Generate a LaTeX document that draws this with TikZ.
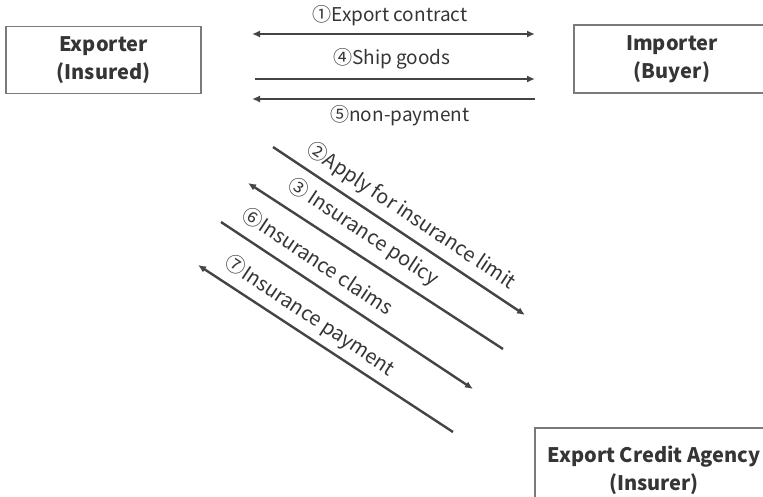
\documentclass[tikz,border=0pt]{standalone}
\usepackage{fontspec}
\setmainfont{Noto Sans CJK KR}
\usetikzlibrary{arrows.meta}
\definecolor{ink}{HTML}{353535}
\definecolor{edge}{HTML}{7A7A7A}
\definecolor{flow}{HTML}{444444}
\begin{document}
\begin{tikzpicture}[x=1pt,y=-1pt,
  party/.style={draw=edge,line width=1.3pt,fill=white,text=ink,
    font=\fontsize{20}{28}\selectfont\bfseries,align=center,
    inner sep=0pt,minimum width=#1},
  flowline/.style={draw=flow,line width=2.4pt},
  tip/.style={-{Latex[length=8pt,width=7pt]}},
  lbl/.style={text=ink,font=\fontsize{19}{20}\selectfont,inner sep=0pt},
  dlbl/.style={text=ink,font=\fontsize{20}{20}\selectfont,inner sep=0pt,rotate=-33.7}]
\useasboundingbox (0,0) rectangle (763,497);
\clip (0,0) rectangle (763,497);

% parties
\node[party=195pt,minimum height=67pt] (exp) at (103.5,60) {Exporter\\(Insured)};
\node[party=196pt,minimum height=68pt] (imp) at (672,59) {Importer\\(Buyer)};
\node[party=238pt,minimum height=84pt] (eca) at (654,470) {Export Credit Agency\\(Insurer)};

% horizontal flows between exporter and importer
\coordinate (h1a) at (252,34);  \coordinate (h1b) at (535,34);
\coordinate (h4a) at (255,79);  \coordinate (h4b) at (535,79);
\coordinate (h5a) at (535,99);  \coordinate (h5b) at (252,99);
\draw[flowline,{Latex[length=8pt,width=7pt]}-{Latex[length=8pt,width=7pt]}] (h1a) -- (h1b);
\draw[flowline,tip] (h4a) -- (h4b);
\draw[flowline,tip] (h5a) -- (h5b);
\node[lbl] (l1) at (390,16) {①Export contract};
\node[lbl] (l4) at (392,59) {④Ship goods};
\node[lbl] (l5) at (400,116) {⑤non-payment};

% diagonal flows between exporter and the agency
\coordinate (d2a) at (273,147); \coordinate (d2b) at (525,315);
\coordinate (d3a) at (503,349); \coordinate (d3b) at (248,183);
\coordinate (d6a) at (221,222); \coordinate (d6b) at (473,389);
\coordinate (d7a) at (453,432); \coordinate (d7b) at (198,265);
\draw[flowline,tip] (d2a) -- (d2b);
\draw[flowline,tip] (d3a) -- (d3b);
\draw[flowline,tip] (d6a) -- (d6b);
\draw[flowline,tip] (d7a) -- (d7b);
\node[dlbl] (l2) at (411,216) {②Apply for insurance limit};
\node[dlbl] (l3) at (363,232) {③ Insurance policy};
\node[dlbl] (l6) at (318,261) {⑥Insurance claims};
\node[dlbl] (l7) at (310,316) {⑦Insurance payment};
\end{tikzpicture}
\end{document}
